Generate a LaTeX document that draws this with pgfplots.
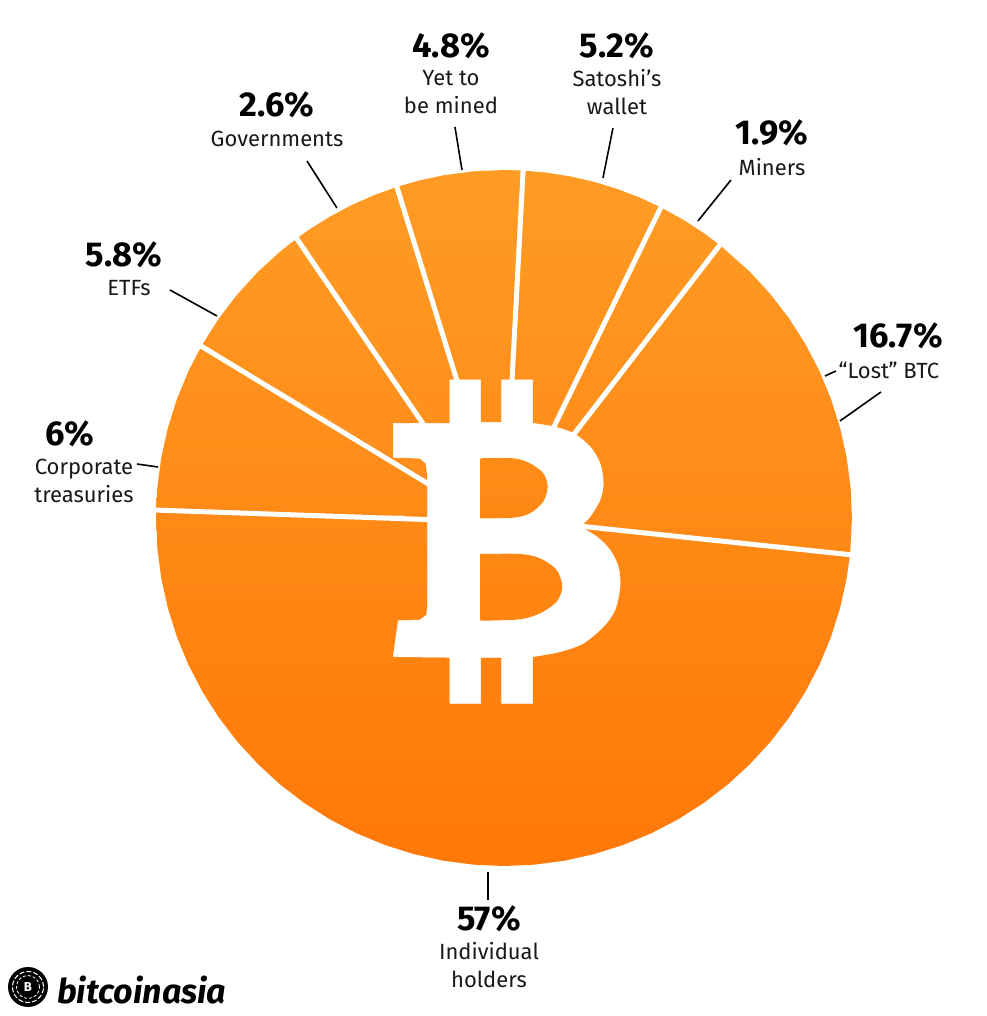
\documentclass[border=0pt]{standalone}
\usepackage{pgfplots}
\pgfplotsset{compat=1.18}
\usepackage{fontspec}
\setmainfont{Fira Sans}
\definecolor{ctop}{HTML}{FF9C25}
\definecolor{cbot}{HTML}{FF7808}
\tikzset{
  pct/.style={font=\fontsize{34.5}{36}\selectfont\bfseries, inner sep=0pt, text=black},
  lbl/.style={font=\fontsize{22}{28}\selectfont, align=center, inner sep=0pt, text=black!90},
}
\begin{document}
\begin{tikzpicture}
\begin{axis}[
  hide axis, scale only axis, width=987pt, height=1016pt,
  xmin=-504, xmax=483, ymin=-498, ymax=518, clip=false,
  leader/.style={draw=black, line width=1.6pt, forget plot},
  sep/.style={draw=white, line width=5pt, forget plot},
]
\path (axis cs:-504,-498) rectangle (axis cs:483,518);
% Slices: (angle, radius), from the picture
% Individual holders 57%
\addplot[data cs=polar, draw=none, top color=ctop!51!cbot, bottom color=cbot, forget plot] coordinates {
 (178.7,0)(178.7,348)(185,348)(190,348)(195,348)(200,348)(205,348)(210,348)(215,348)(220,348)(225,348)(230,348)(235,348)(240,348)(245,348)(250,348)(255,348)(260,348)(265,348)(270,348)(275,348)(280,348)(285,348)(290,348)(295,348)(300,348)(305,348)(310,348)(315,348)(320,348)(325,348)(330,348)(335,348)(340,348)(345,348)(350,348)(354.2,348)(354.2,0)};
% Corporate treasuries 6%
\addplot[data cs=polar, draw=none, top color=ctop!74!cbot, bottom color=ctop!50!cbot, forget plot] coordinates {
 (150.4,0)(150.4,348)(155,348)(160,348)(165,348)(170,348)(175,348)(178.7,348)(178.7,0)};
% ETFs 5.8%
\addplot[data cs=polar, draw=none, top color=ctop!90!cbot, bottom color=ctop!50!cbot, forget plot] coordinates {
 (126.5,0)(126.5,348)(130,348)(135,348)(140,348)(145,348)(150.4,348)(150.4,0)};
% Governments 2.6%
\addplot[data cs=polar, draw=none, top color=ctop!97!cbot, bottom color=ctop!50!cbot, forget plot] coordinates {
 (108,0)(108,348)(112,348)(116,348)(120,348)(124,348)(126.5,348)(126.5,0)};
% Yet to be mined 4.8%
\addplot[data cs=polar, draw=none, top color=ctop, bottom color=ctop!50!cbot, forget plot] coordinates {
 (86.9,0)(86.9,348)(90,348)(95,348)(100,348)(104,348)(108,348)(108,0)};
% Satoshi's wallet 5.2%
\addplot[data cs=polar, draw=none, top color=ctop, bottom color=ctop!50!cbot, forget plot] coordinates {
 (63.2,0)(63.2,348)(67,348)(71,348)(75,348)(79,348)(83,348)(86.9,348)(86.9,0)};
% Miners 1.9%
\addplot[data cs=polar, draw=none, top color=ctop!95!cbot, bottom color=ctop!50!cbot, forget plot] coordinates {
 (51.6,0)(51.6,348)(55,348)(59,348)(63.2,348)(63.2,0)};
% "Lost" BTC 16.7%
\addplot[data cs=polar, draw=none, top color=ctop!89!cbot, bottom color=ctop!45!cbot, forget plot] coordinates {
 (-5.8,0)(-5.8,348)(0,348)(5,348)(10,348)(15,348)(20,348)(25,348)(30,348)(35,348)(40,348)(45,348)(51.6,348)(51.6,0)};
% Separators
\addplot[sep] coordinates {(-350,8)(-64,-2)};
\addplot[sep] coordinates {(-303,172)(-64,27)};
\addplot[sep] coordinates {(-209,282)(-74,84)};
\addplot[sep] coordinates {(-108,334)(-41,118)};
\addplot[sep] coordinates {(19.5,354)(7,118)};
\addplot[sep] coordinates {(160,317)(46,83)};
\addplot[sep] coordinates {(219,277)(64,76)};
\addplot[sep] coordinates {(349,-37)(56,-6)};
% Bitcoin sign: body and two bowls
\addplot[fill=white, draw=white, line width=.5pt, forget plot] coordinates {
 (-110.7,94.7)(-54,94.7)(-54,138)(-23.3,138)(-23.3,95.7)(-2.3,95.7)(-2.3,138)(28.7,138)(28.7,94.7)
 (76,-8.7)(28.7,-138.7)
 (28.7,-185.3)(-2.3,-185.3)(-2.3,-139.3)(-23.3,-139.3)(-23.3,-185.3)(-54,-185.3)(-54,-139.3)
 (-110.7,-138.7)(-105.7,-102.7)(-84,-102)(-77.3,-97)(-76.3,-85.3)(-76.3,41.3)(-78,54.7)(-84,59.7)(-110.7,60.7)(-110.7,94.7)};
\addplot[smooth, fill=white, draw=white, line width=.5pt, forget plot] coordinates {
 (28.7,94.7)(49.3,91.3)(69.3,84.7)(86,71.3)(96,54.7)(99.3,34.7)(96,18)(86,1.3)(76,-8.7)};
\addplot[smooth, fill=white, draw=white, line width=.5pt, forget plot] coordinates {
 (76,-8.7)(92.7,-18.7)(106,-32)(114.3,-48.7)(116,-68.7)(111,-92)(99.3,-108.7)(79.3,-125.3)(56,-133.7)(28.7,-138.7)};
\addplot[smooth, top color=ctop!54!cbot, bottom color=ctop!44!cbot, draw=none, forget plot] coordinates {
 (-23.3,59.7)(9.3,59.7)(26,54.7)(39.3,44.7)(43.7,31.3)(39.3,16.3)(26,4.7)(9.3,0.3)(-23.3,-0.3)};
\addplot[smooth, top color=ctop!42!cbot, bottom color=ctop!33!cbot, draw=none, forget plot] coordinates {
 (-23.3,-36)(16,-36)(36,-40.3)(52.7,-52)(58.3,-68.7)(52.7,-83.7)(36,-95.3)(16,-101.3)(-23.3,-102.7)};
% Leader lines
\addplot[leader] coordinates {(-197,357)(-167,310)};
\addplot[leader] coordinates {(-49,391)(-42,348)};
\addplot[leader] coordinates {(109,390)(99,340)};
\addplot[leader] coordinates {(227,338)(194,297)};
\addplot[leader] coordinates {(321,142)(332,147)};
\addplot[leader] coordinates {(377,126)(336,97)};
\addplot[leader] coordinates {(-334,228)(-287,202)};
\addplot[leader] coordinates {(-367,54)(-346,51)};
\addplot[leader] coordinates {(-16,-354)(-16,-382)};
% Labels
\node[pct] at (axis cs:-227,413) {2.6\%};
\node[lbl] at (axis cs:-227,379) {Governments};
\node[pct] at (axis cs:-53,472) {4.8\%};
\node[lbl] at (axis cs:-53,426) {Yet to\\be mined};
\node[pct] at (axis cs:113,472) {5.2\%};
\node[lbl] at (axis cs:113,426) {Satoshi’s\\wallet};
\node[pct] at (axis cs:268,385) {1.9\%};
\node[lbl] at (axis cs:268,351) {Miners};
\node[pct] at (axis cs:394,182) {16.7\%};
\node[lbl] at (axis cs:385,148) {“Lost” BTC};
\node[pct] at (axis cs:-380,263) {5.8\%};
\node[lbl] at (axis cs:-375,230) {ETFs};
\node[pct] at (axis cs:-434,84) {6\%};
\node[lbl] at (axis cs:-420,37) {Corporate\\treasuries};
\node[pct] at (axis cs:-15,-401) {57\%};
\node[lbl] at (axis cs:-15,-447) {Individual\\holders};
% Brand
\node[anchor=west, inner sep=0pt, font=\fontsize{34}{36}\selectfont\bfseries\itshape] at (axis cs:-447,-472) {bitcoinasia};
\fill[black] (axis cs:-476,-469) circle[radius=20pt];
\draw[white, line width=1pt, dash pattern=on 5pt off 2pt] (axis cs:-476,-469) circle[radius=15.5pt];
\draw[white, line width=.8pt, dash pattern=on 3pt off 2pt] (axis cs:-476,-469) circle[radius=11.5pt];
\node[text=white, inner sep=0pt, font=\fontsize{13}{13}\selectfont\bfseries] at (axis cs:-476,-469) {B};
\end{axis}
\end{tikzpicture}
\end{document}
